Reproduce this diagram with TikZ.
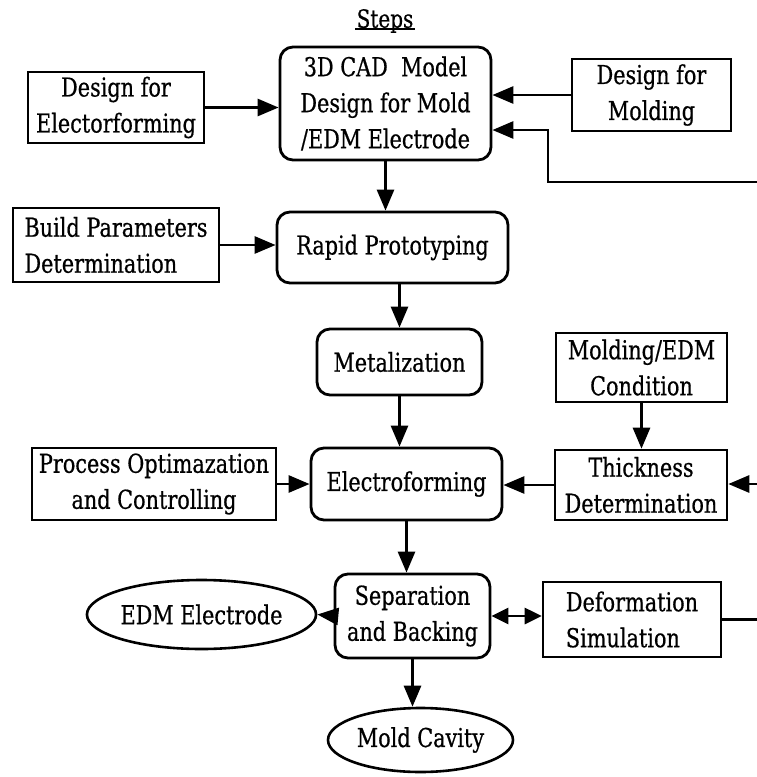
\documentclass[tikz,border=0pt]{standalone}
\usepackage{fontspec}
\setmainfont{DejaVu Serif}[FakeStretch=0.8, FakeBold=0.6]
\usetikzlibrary{arrows.meta,shapes.geometric,calc}
\begin{document}
\begin{tikzpicture}[x=1pt,y=-1pt,
  every node/.style={font=\fontsize{26}{36}\selectfont, inner sep=2pt},
  line/.style={line width=2.8pt},
  arr/.style={line, -{Triangle[length=21pt,width=17pt]}},
  darr/.style={line, {Triangle[length=17pt,width=16pt]}-{Triangle[length=17pt,width=16pt]}},
  stepbox/.style={draw, line width=2.8pt, rounded corners=13pt, align=center},
  sidebox/.style={draw, line width=2.6pt, align=center},
  outbox/.style={draw, ellipse, line width=2.6pt, inner sep=0pt}]
\useasboundingbox (0,0) rectangle (757,777);

% title
\node[inner sep=1pt, font=\fontsize{25}{27}\selectfont] (steps) at (385,21) {Steps};
\draw[line width=2.6pt] ([yshift=5pt]steps.south west) -- ([yshift=5pt]steps.south east);

% main steps
\node[stepbox, minimum width=211pt, minimum height=113pt] (cad) at (385.5,103.5) {3D CAD~~Model\\Design for Mold\\/EDM Electrode};
\node[stepbox, minimum width=231pt, minimum height=71pt] (rapid) at (392.5,247.5) {Rapid Prototyping};
\node[stepbox, minimum width=165pt, minimum height=66pt] (metal) at (399.5,362) {Metalization};
\node[stepbox, minimum width=191pt, minimum height=72pt] (eform) at (406.5,484) {Electroforming};
\node[stepbox, minimum width=155pt, minimum height=84pt] (sep) at (412.5,616) {Separation\\and Backing};

% side boxes
\node[sidebox, minimum width=176pt, minimum height=71pt] (elec) at (116,107.5) {Design for\\Electorforming};
\node[sidebox, minimum width=159pt, minimum height=72pt] (mold) at (651.5,95) {Design for\\Molding};
\node[sidebox, minimum width=206pt, minimum height=74pt, align=left] (build) at (116,245) {Build Parameters\\Determination};
\node[sidebox, minimum width=171pt, minimum height=69pt] (mcond) at (641.5,367.5) {Molding/EDM\\Condition};
\node[sidebox, minimum width=244pt, minimum height=72pt] (proc) at (154,484) {Process Optimazation\\and Controlling};
\node[sidebox, minimum width=172pt, minimum height=70pt] (thick) at (641,485) {Thickness\\Determination};
\node[sidebox, minimum width=178pt, minimum height=75pt, align=left] (def) at (632,619.5) {Deformation\\Simulation};

% outputs
\node[outbox, minimum width=203pt, minimum height=69pt] (edm) at (201.5,614.5) {EDM Electrode};
\node[outbox, minimum width=185pt, minimum height=64pt] (cavity) at (420.5,740) {Mold Cavity};

% free ends at the right margin
\coordinate (fbin) at (757,182);
\coordinate (fbturn) at (548,130);
\coordinate (thin) at (757,484);
\coordinate (dout) at (757,617);

% connectors
\draw[arr] (elec.east) -- (cad.west |- elec.east);
\draw[arr] (mold.west) -- (cad.east |- mold.west);
\draw[arr] (fbin) -| (fbturn) -- (cad.east |- fbturn);
\draw[arr] (cad.south) -- (cad.south |- rapid.north);
\draw[arr] (build.east) -- (rapid.west |- build.east);
\draw[arr] (metal.north |- rapid.south) -- (metal.north);
\draw[arr] (metal.south) -- (metal.south |- eform.north);
\draw[arr] (proc.east) -- (eform.west |- proc.east);
\draw[arr] (thick.west) -- (eform.east |- thick.west);
\draw[arr] (mcond.south) -- (mcond.south |- thick.north);
\draw[arr] (thin) -- (thick.east |- thin);
\draw[arr] (eform.south) -- (eform.south |- sep.north);
\draw[arr] (sep.west) -- (edm.east);
\draw[darr] (sep.east) -- (def.west |- sep.east);
\draw[line] (def.east) -- (dout |- def.east);
\draw[arr] (sep.south) -- (sep.south |- cavity.north);
\end{tikzpicture}
\end{document}
